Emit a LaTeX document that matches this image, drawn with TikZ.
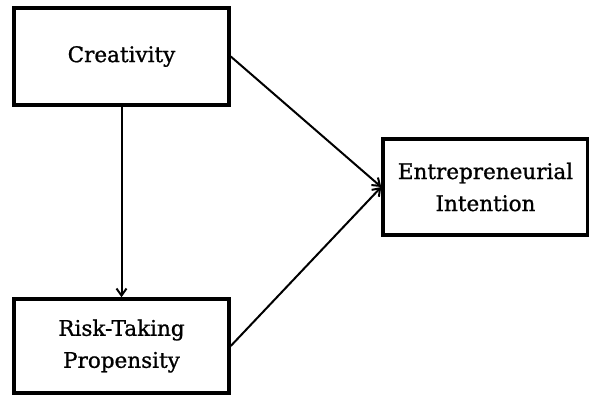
\documentclass[tikz,border=0pt]{standalone}
\usepackage{fontspec}
\setmainfont{DejaVu Serif}[FakeBold=1]
\usetikzlibrary{arrows.meta}

\begin{document}
\begin{tikzpicture}[x=1pt, y=1pt,
	factor/.style={draw, line width=3.5pt, inner sep=0pt, align=center,
		font=\fontsize{21.5}{32}\selectfont},
	link/.style={line width=2pt, -{Straight Barb[length=7pt, width=10pt]}}]
			%%%%% START %%%%%
			\useasboundingbox (0, 0) rectangle (589, 396);
			
			\node[factor, minimum width=215, minimum height=97] (creat) at (121.5, 339.5) {Creativity};
			\node[factor, minimum width=215, minimum height=94] (risk) at (121.5, 50) {Risk-Taking\\Propensity};
			\node[factor, minimum width=205, minimum height=96] (intent) at (485.5, 209) {Entrepreneurial\\Intention};
			
			\draw[link] (creat.south) -- (risk.north);
			\draw[link] (creat.east) -- (intent.west);
			\draw[link] (risk.east) -- (intent.west);
			
			%%%%% END %%%%%
		\end{tikzpicture}
\end{document}
